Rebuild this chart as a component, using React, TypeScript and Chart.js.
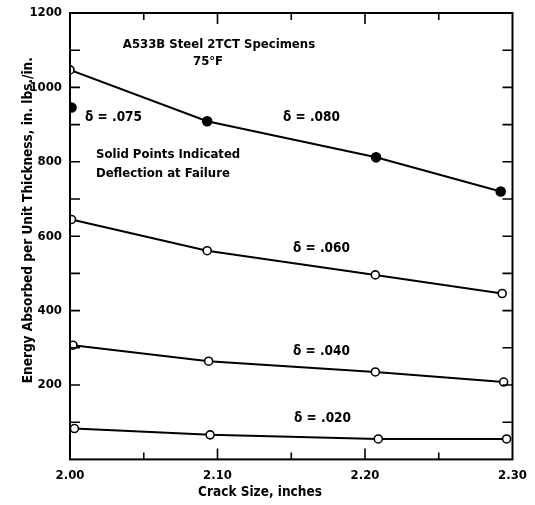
import React, { useEffect, useRef } from 'react';
import { Chart, registerables } from 'chart.js';

Chart.register(...registerables);

// ---- data ----
const crackSize080 = [2.0, 2.093, 2.2075, 2.292];
const energy080 = [1047, 909, 812, 720];
const solid080 = [false, true, true, true];

const crackSize075 = [2.001];
const energy075 = [946];

const crackSize060 = [2.001, 2.093, 2.207, 2.293];
const energy060 = [645, 561, 496, 446];

const crackSize040 = [2.002, 2.094, 2.207, 2.294];
const energy040 = [307, 264, 235, 208];

const crackSize020 = [2.003, 2.095, 2.209, 2.296];
const energy020 = [83, 66, 55, 55];

const xMin = 2.0;
const xMax = 2.3;
const yMin = 0;
const yMax = 1200;

const FONT = '"Liberation Sans Narrow", "DejaVu Sans Condensed", "Arial Narrow", sans-serif';

// text notes placed in data space
const notes = [
  { text: 'A533B Steel 2TCT Specimens', x: 2.101, y: 1116, align: 'center', size: 13 },
  { text: '75°F', x: 2.0936, y: 1068, align: 'center', size: 13 },
  { text: 'Solid Points Indicated', x: 2.0176, y: 818, align: 'left', size: 13 },
  { text: 'Deflection at Failure', x: 2.0176, y: 767, align: 'left', size: 13 },
  { text: 'δ = .075', x: 2.0102, y: 918, align: 'left', size: 13.5 },
  { text: 'δ = .080', x: 2.1444, y: 920, align: 'left', size: 13.5 },
  { text: 'δ = .060', x: 2.1512, y: 568, align: 'left', size: 13.5 },
  { text: 'δ = .040', x: 2.1512, y: 289, align: 'left', size: 13.5 },
  { text: 'δ = .020', x: 2.1519, y: 111, align: 'left', size: 13.5 },
];

const xTitle = 'Crack Size, inches';
const yTitle = 'Energy Absorbed per Unit Thickness, in. lbs./in.';

const pts = (xs: number[], ys: number[]) => xs.map((x, i) => ({ x, y: ys[i] }));

const framePlugin = {
  id: 'frame',
  afterDraw(chart: any) {
    const { ctx, chartArea: a, scales } = chart;
    const xs = scales.x;
    const ys = scales.y;
    ctx.save();
    ctx.strokeStyle = '#000';
    ctx.lineWidth = 2;
    ctx.strokeRect(a.left, a.top, a.right - a.left, a.bottom - a.top);

    ctx.lineWidth = 1.6;
    ctx.beginPath();
    for (let i = 1; i < 6; i++) {
      const v = xMin + i * 0.05;
      const px = xs.getPixelForValue(v);
      const len = i % 2 === 0 ? 11 : 7;
      ctx.moveTo(px, a.bottom);
      ctx.lineTo(px, a.bottom - len);
      ctx.moveTo(px, a.top);
      ctx.lineTo(px, a.top + len);
    }
    for (let v = 100; v < yMax; v += 100) {
      const py = ys.getPixelForValue(v);
      ctx.moveTo(a.left, py);
      ctx.lineTo(a.left + 10, py);
      ctx.moveTo(a.right, py);
      ctx.lineTo(a.right - 10, py);
    }
    ctx.stroke();

    ctx.fillStyle = '#000';
    ctx.textBaseline = 'middle';
    for (const n of notes) {
      ctx.font = `bold ${n.size}px ${FONT}`;
      ctx.textAlign = n.align as CanvasTextAlign;
      ctx.fillText(n.text, xs.getPixelForValue(n.x), ys.getPixelForValue(n.y));
    }

    // axis titles
    ctx.font = `bold 13.5px ${FONT}`;
    ctx.textAlign = 'center';
    ctx.fillText(xTitle, xs.getPixelForValue(2.1288), a.bottom + 33);
    ctx.save();
    ctx.translate(a.left - 42, ys.getPixelForValue(643));
    ctx.rotate(-Math.PI / 2);
    ctx.fillText(yTitle, 0, 0);
    ctx.restore();
    ctx.restore();
  },
};

export default function App() {
  const ref = useRef<HTMLCanvasElement>(null);
  useEffect(() => {
    if (!ref.current) return;
    const open = { pointBackgroundColor: '#fff' };
    const common = {
      borderColor: '#000',
      borderWidth: 2,
      pointRadius: 4,
      pointBorderWidth: 1.6,
      pointBorderColor: '#000',
      showLine: true,
      tension: 0,
    };
    const chart = new Chart(ref.current, {
      type: 'scatter',
      data: {
        datasets: [
          {
            ...common,
            label: 'δ = .080',
            data: pts(crackSize080, energy080),
            pointBackgroundColor: solid080.map((s) => (s ? '#000' : '#fff')),
            pointRadius: solid080.map((s) => (s ? 4.5 : 4)),
          },
          {
            ...common,
            label: 'δ = .075',
            data: pts(crackSize075, energy075),
            showLine: false,
            pointBackgroundColor: '#000',
            pointRadius: 4.5,
          },
          { ...common, ...open, label: 'δ = .060', data: pts(crackSize060, energy060) },
          { ...common, ...open, label: 'δ = .040', data: pts(crackSize040, energy040) },
          { ...common, ...open, label: 'δ = .020', data: pts(crackSize020, energy020) },
        ],
      } as any,
      options: {
        animation: false,
        responsive: false,
        layout: { padding: { top: 13, right: 22.5, left: 0, bottom: 0 } },
        plugins: { legend: { display: false }, tooltip: { enabled: false } },
        scales: {
          x: {
            type: 'linear',
            min: xMin,
            max: xMax,
            grid: { display: false, drawTicks: false },
            border: { display: false },
            ticks: {
              stepSize: 0.1,
              padding: 8,
              color: '#000',
              font: { family: FONT, size: 13, weight: 'bold' },
              callback: (v: any) => Number(v).toFixed(2),
            },
            afterFit: (s: any) => {
              s.height = 45.6;
              s.paddingLeft = 0;
              s.paddingRight = 0;
            },
          },
          y: {
            type: 'linear',
            min: yMin,
            max: yMax,
            grid: { display: false, drawTicks: false },
            border: { display: false },
            ticks: {
              stepSize: 200,
              padding: 8,
              color: '#000',
              font: { family: FONT, size: 13, weight: 'bold' },
              callback: (v: any) => (Number(v) === 0 ? '' : String(v)),
            },
            afterFit: (s: any) => {
              s.width = 70;
              s.paddingTop = 0;
              s.paddingBottom = 0;
            },
          },
        },
      } as any,
      plugins: [framePlugin],
    });
    return () => chart.destroy();
  }, []);
  return (
    <div style={{ position: 'absolute', left: 0, top: 0, width: 535, height: 505, background: '#fff' }}>
      <canvas ref={ref} width={535} height={505} style={{ display: 'block' }} />
    </div>
  );
}
